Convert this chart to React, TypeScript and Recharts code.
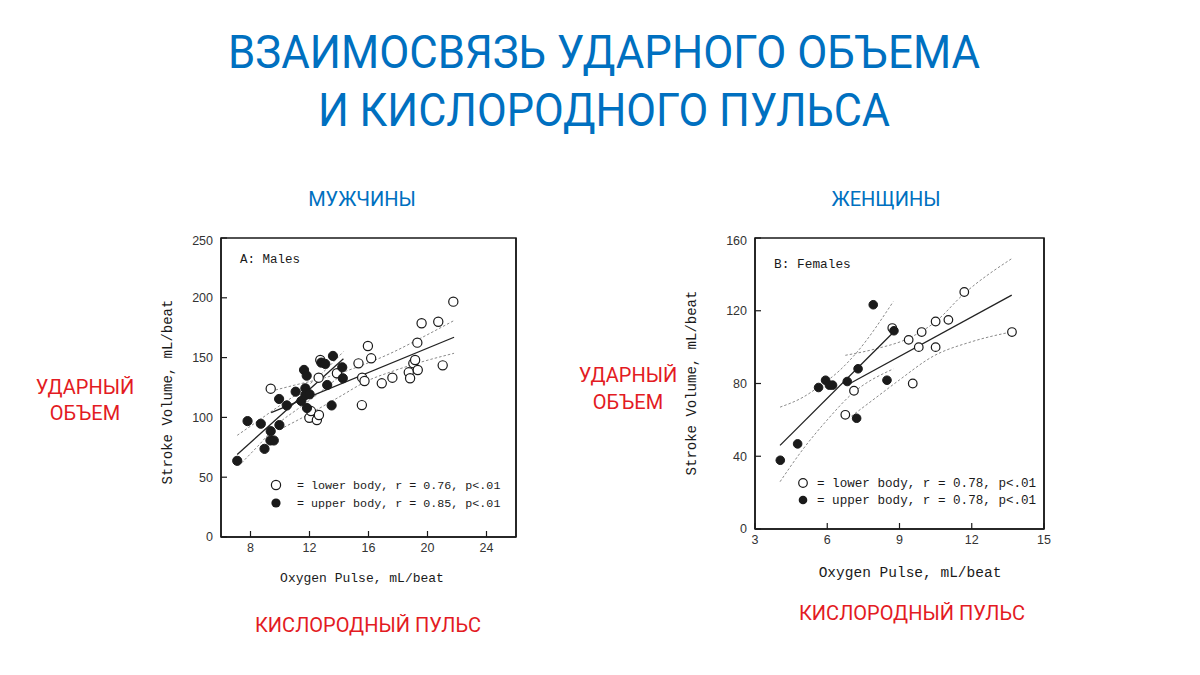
import { ScatterChart, Scatter, XAxis, YAxis, ReferenceArea } from "recharts";

type Pt = [number, number];

// A: Males — oxygen pulse vs stroke volume
const maleLowerBody: Pt[] = [
  [9.37, 124], [11.99, 99.7], [12.1, 105.3], [12.5, 97.8], [12.64, 102], [12.62, 133.2],
  [12.73, 148], [13.86, 136.9], [15.32, 145.2], [15.55, 110.3], [15.57, 133.2], [15.73, 130.4],
  [15.96, 159.7], [16.18, 149.4], [16.9, 128.5], [17.62, 133.2], [18.73, 137.7], [18.82, 132.7],
  [19.04, 145.2], [19.16, 148], [19.31, 162.5], [19.34, 139.6], [19.6, 178.7], [20.73, 180],
  [21.03, 143.5], [21.75, 196.8],
];
const maleUpperBody: Pt[] = [
  [7.1, 63.7], [7.8, 96.9], [8.7, 94.7], [8.95, 73.7], [9.37, 88.5], [9.35, 80.7], [9.58, 80.7],
  [9.94, 115.4], [9.96, 93.6], [10.46, 110], [11.06, 121.5], [11.45, 113.7], [11.63, 139.7],
  [11.81, 134.9], [11.72, 124.3], [11.72, 118.7], [12.01, 119.3], [11.83, 107.8], [12.8, 145.8],
  [13.07, 144.7], [13.2, 127.1], [13.59, 151.4], [13.5, 110], [14.22, 141.9], [14.26, 132.7],
];
const maleLowerFit: Pt[] = [[9.4, 104], [21.8, 167]];
const maleLowerHi: Pt[] = [[9.4, 122], [11, 127], [13, 133], [15, 141], [17.5, 153.6], [19.5, 166], [21.8, 181]];
const maleLowerLo: Pt[] = [[10, 90], [12, 103], [14, 117], [16, 131], [17.5, 138], [19.5, 146], [21.8, 153.6]];
const maleUpperFit: Pt[] = [[7.1, 69], [14.3, 149]];
const maleUpperHi: Pt[] = [[7.1, 85], [8.5, 97], [10, 110], [11.2, 120], [12.5, 133], [14.3, 155]];
const maleUpperLo: Pt[] = [[7.4, 62], [8.5, 76], [10, 96], [11.2, 107], [12.5, 119], [14.3, 137]];
const maleXTicks = [8, 12, 16, 20, 24];
const maleYTicks = [0, 50, 100, 150, 200, 250];

// B: Females
const femaleLowerBody: Pt[] = [
  [6.75, 62.8], [7.11, 76], [8.7, 110.5], [9.38, 104], [9.55, 80], [9.8, 100], [9.92, 108.3],
  [10.5, 114.1], [10.5, 100], [11.03, 115], [11.69, 130.3], [13.67, 108.3],
];
const femaleUpperBody: Pt[] = [
  [4.05, 37.8], [4.77, 46.8], [5.64, 77.8], [5.93, 81.8], [6.09, 79.1], [6.22, 79.1],
  [6.83, 81.1], [7.28, 88.1], [7.22, 60.9], [7.91, 123.3], [8.48, 81.8], [8.77, 109],
];
const femaleLowerFit: Pt[] = [[6.94, 80], [13.66, 128.6]];
const femaleLowerHi: Pt[] = [[6.75, 95.5], [8, 99], [9.4, 105], [10.5, 114], [11.65, 129], [13.7, 149]];
const femaleLowerLo: Pt[] = [[7, 62], [8, 72], [9, 82], [10.4, 95], [12, 103], [13.7, 108.5]];
const femaleUpperFit: Pt[] = [[4.04, 46], [8.77, 108.5]];
const femaleUpperHi: Pt[] = [[4.04, 67], [5, 72.5], [5.63, 78], [6.5, 87], [7.22, 97], [8.74, 125]];
const femaleUpperLo: Pt[] = [[4.04, 26], [5, 44], [6, 60], [7, 74], [8.74, 88]];
const femaleXTicks = [3, 6, 9, 12, 15];
const femaleYTicks = [0, 40, 80, 120, 160];

const BLUE = "#0070C0";
const RED = "#E31B23";
const INK = "#1a1a1a";
const SANS = "Roboto, 'Noto Sans', sans-serif";
const MONO = "'Courier New', 'Liberation Mono', monospace";

const toXY = (pts: Pt[]) => pts.map(([x, y]) => ({ x, y }));

const OpenDot = (r: number) => (p: any) =>
  <circle cx={p.cx} cy={p.cy} r={r} fill="#fff" stroke={INK} strokeWidth={1.2} />;
const FilledDot = (r: number) => (p: any) =>
  <circle cx={p.cx} cy={p.cy} r={r} fill={INK} stroke={INK} strokeWidth={1} />;
const NoDot = () => <g />;

interface PanelProps {
  left: number;
  plotW: number;
  plotH: number;
  xDomain: [number, number];
  yDomain: [number, number];
  xTicks: number[];
  yTicks: number[];
  open: Pt[];
  filled: Pt[];
  lines: { pts: Pt[]; band: boolean }[];
  r: number;
}

function Panel(p: PanelProps) {
  const tick = { fill: "#333", fontSize: 12.5, fontFamily: "'Liberation Sans', Arial, sans-serif" };
  const axisLine = { stroke: INK, strokeWidth: 1.5 };
  const tickLine = { stroke: INK, strokeWidth: 1.2 };
  return (
    <div style={{ position: "absolute", left: p.left, top: 233 }}>
      <ScatterChart
        width={45 + p.plotW + 45}
        height={5 + p.plotH + 30}
        margin={{ top: 5, right: 0, bottom: 0, left: 0 }}
      >
        <XAxis
          type="number"
          dataKey="x"
          domain={p.xDomain}
          ticks={p.xTicks}
          tick={tick}
          tickSize={-6}
          tickMargin={12}
          tickLine={tickLine}
          axisLine={axisLine}
          height={30}
          allowDataOverflow
        />
        <YAxis
          type="number"
          dataKey="y"
          domain={p.yDomain}
          ticks={p.yTicks}
          tick={tick}
          tickSize={-6}
          tickMargin={14}
          tickLine={tickLine}
          axisLine={axisLine}
          width={45}
          allowDataOverflow
        />
        <YAxis
          yAxisId="right"
          orientation="right"
          type="number"
          dataKey="y"
          domain={p.yDomain}
          ticks={p.yTicks}
          tick={tick}
          tickSize={-6}
          tickMargin={13}
          tickLine={tickLine}
          axisLine={axisLine}
          width={45}
        />
        {/* plot frame */}
        <ReferenceArea
          x1={p.xDomain[0]}
          x2={p.xDomain[1]}
          y1={p.yDomain[0]}
          y2={p.yDomain[1]}
          fill="none"
          stroke={INK}
          strokeWidth={1.5}
          ifOverflow="visible"
        />
        {p.lines.map((l, i) => (
          <Scatter
            key={"l" + i}
            data={toXY(l.pts)}
            shape={NoDot}
            line={
              l.band
                ? { stroke: "#8a8a8a", strokeWidth: 1, strokeDasharray: "2.5 2" }
                : { stroke: "#222", strokeWidth: 1.3 }
            }
            lineJointType="monotoneX"
            legendType="none"
            isAnimationActive={false}
          />
        ))}
        <Scatter data={toXY(p.open)} shape={OpenDot(p.r)} isAnimationActive={false} />
        <Scatter data={toXY(p.filled)} shape={FilledDot(p.r)} isAnimationActive={false} />
      </ScatterChart>
    </div>
  );
}

export default function App() {
  return (
    <div
      style={{
        position: "absolute",
        left: 0,
        top: 0,
        width: 1200,
        height: 675,
        background: "#fff",
        overflow: "hidden",
      }}
    >
      <Panel
        left={176}
        plotW={295}
        plotH={299}
        xDomain={[6, 26]}
        yDomain={[0, 250]}
        xTicks={maleXTicks}
        yTicks={maleYTicks}
        open={maleLowerBody}
        filled={maleUpperBody}
        r={4.6}
        lines={[
          { pts: maleLowerHi, band: true },
          { pts: maleLowerLo, band: true },
          { pts: maleUpperHi, band: true },
          { pts: maleUpperLo, band: true },
          { pts: maleLowerFit, band: false },
          { pts: maleUpperFit, band: false },
        ]}
      />
      <Panel
        left={710}
        plotW={289}
        plotH={291}
        xDomain={[3, 15]}
        yDomain={[0, 160]}
        xTicks={femaleXTicks}
        yTicks={femaleYTicks}
        open={femaleLowerBody}
        filled={femaleUpperBody}
        r={4.3}
        lines={[
          { pts: femaleLowerHi, band: true },
          { pts: femaleLowerLo, band: true },
          { pts: femaleUpperHi, band: true },
          { pts: femaleUpperLo, band: true },
          { pts: femaleLowerFit, band: false },
          { pts: femaleUpperFit, band: false },
        ]}
      />

      <svg
        width={1200}
        height={675}
        style={{ position: "absolute", left: 0, top: 0, pointerEvents: "none" }}
      >
        <g fontFamily={SANS} fill={BLUE} textAnchor="middle">
          <text x={604} y={68} fontSize={47} textLength={752} lengthAdjust="spacingAndGlyphs">
            ВЗАИМОСВЯЗЬ УДАРНОГО ОБЪЕМА
          </text>
          <text x={604} y={126} fontSize={47} textLength={572} lengthAdjust="spacingAndGlyphs">
            И КИСЛОРОДНОГО ПУЛЬСА
          </text>
          <text x={362} y={206} fontSize={20}>МУЖЧИНЫ</text>
          <text x={886} y={206} fontSize={20}>ЖЕНЩИНЫ</text>
        </g>
        <g fontFamily={SANS} fill={RED} textAnchor="middle" fontSize={20}>
          <text x={85} y={394}>УДАРНЫЙ</text>
          <text x={85} y={420}>ОБЪЕМ</text>
          <text x={628} y={382}>УДАРНЫЙ</text>
          <text x={628} y={409}>ОБЪЕМ</text>
          <text x={368} y={632}>КИСЛОРОДНЫЙ ПУЛЬС</text>
          <text x={912} y={620}>КИСЛОРОДНЫЙ ПУЛЬС</text>
        </g>

        {/* males panel texts */}
        <g fontFamily={MONO} fill={INK}>
          <text x={240} y={263} fontSize={12.5}>A: Males</text>
          <circle cx={276} cy={485} r={4.6} fill="#fff" stroke={INK} strokeWidth={1.2} />
          <text x={297} y={489} fontSize={11.7}>= lower body, r = 0.76, p&lt;.01</text>
          <circle cx={276} cy={503} r={4.6} fill={INK} />
          <text x={297} y={507} fontSize={11.7}>= upper body, r = 0.85, p&lt;.01</text>
          <text x={362} y={582} fontSize={13} textAnchor="middle">Oxygen Pulse, mL/beat</text>
          <text
            x={172}
            y={392}
            fontSize={14}
            textAnchor="middle"
            transform="rotate(-90 172 392)"
          >
            Stroke Volume, mL/beat
          </text>
        </g>

        {/* females panel texts */}
        <g fontFamily={MONO} fill={INK}>
          <text x={774} y={268} fontSize={12.8}>B: Females</text>
          <circle cx={803} cy={483} r={4.3} fill="#fff" stroke={INK} strokeWidth={1.2} />
          <text x={817} y={487} fontSize={12.6}>= lower body, r = 0.78, p&lt;.01</text>
          <circle cx={803} cy={500} r={4.3} fill={INK} />
          <text x={817} y={504} fontSize={12.6}>= upper body, r = 0.78, p&lt;.01</text>
          <text x={910} y={577} fontSize={14.5} textAnchor="middle">Oxygen Pulse, mL/beat</text>
          <text
            x={696}
            y={383}
            fontSize={14}
            textAnchor="middle"
            transform="rotate(-90 696 383)"
          >
            Stroke Volume, mL/beat
          </text>
        </g>
      </svg>
    </div>
  );
}
